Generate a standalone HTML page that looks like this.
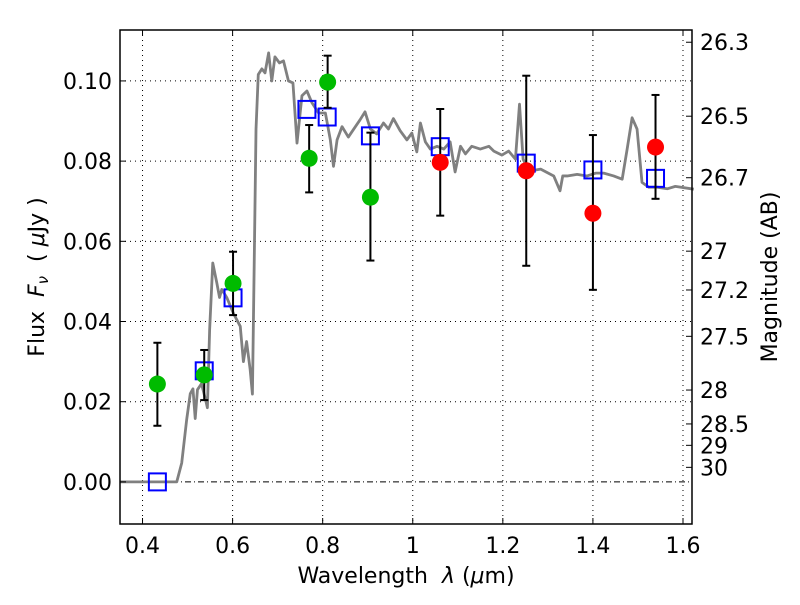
<!DOCTYPE html>
<html><head><meta charset="utf-8"><style>
body{margin:0;background:#fff;}
svg text{font-family:"DejaVu Sans","Liberation Sans",sans-serif;}
</style></head><body>
<svg id="chart" width="800" height="600" xmlns="http://www.w3.org/2000/svg">
<rect width="800" height="600" fill="#fff"/>
<g id="grid"></g>
<g id="spec"></g>
<g id="marks"></g>
<g id="axes"></g>
<text x="406" y="583" font-size="22" text-anchor="middle">Wavelength&#160;&#160;<tspan font-style="italic">λ</tspan> (<tspan font-style="italic">μ</tspan>m)</text>
<text transform="translate(44,277) rotate(-90)" font-size="22" text-anchor="middle">Flux&#160;&#160;<tspan font-style="italic">F</tspan><tspan font-style="italic" font-size="15" dy="4">ν</tspan><tspan dy="-4">&#160;&#160;( </tspan><tspan font-style="italic">μ</tspan>Jy )</text>
<text transform="translate(777,277) rotate(-90)" font-size="22" text-anchor="middle">Magnitude (AB)</text>
</svg>
<script>
const xTicks=[0.4,0.6,0.8,1.0,1.2,1.4,1.6];
const xTickLabels=["0.4","0.6","0.8","1","1.2","1.4","1.6"];
const yTicks=[0,0.02,0.04,0.06,0.08,0.10];
const yTickLabels=["0.00","0.02","0.04","0.06","0.08","0.10"];
const magTicks=[26.3,26.5,26.7,27,27.2,27.5,28,28.5,29,30];
const specLam=[0.35,0.476,0.487,0.498,0.506,0.512,0.517,0.522,0.531,0.541,0.544,0.549,0.556,0.565,0.571,0.576,0.587,0.602,0.617,0.624,0.631,0.639,0.644,0.648,0.652,0.657,0.665,0.672,0.68,0.687,0.694,0.704,0.713,0.724,0.734,0.743,0.754,0.765,0.776,0.791,0.806,0.817,0.824,0.832,0.843,0.857,0.869,0.883,0.894,0.906,0.92,0.935,0.946,0.957,0.972,0.987,0.998,1.009,1.017,1.028,1.039,1.054,1.069,1.083,1.094,1.106,1.117,1.131,1.15,1.169,1.18,1.198,1.213,1.228,1.237,1.245,1.258,1.284,1.313,1.327,1.333,1.343,1.365,1.387,1.406,1.424,1.446,1.465,1.476,1.487,1.498,1.509,1.524,1.543,1.565,1.583,1.624];
const specFlux=[0,0,0.0047,0.0155,0.022,0.0232,0.0158,0.023,0.0245,0.020,0.0185,0.0379,0.0546,0.0496,0.046,0.048,0.046,0.042,0.0388,0.030,0.035,0.028,0.0219,0.0546,0.088,0.1016,0.103,0.102,0.107,0.100,0.106,0.1045,0.105,0.100,0.0995,0.0845,0.0963,0.0975,0.0946,0.092,0.092,0.0853,0.0787,0.0853,0.0886,0.086,0.088,0.0903,0.0923,0.088,0.0868,0.0895,0.088,0.0906,0.0876,0.0853,0.087,0.0823,0.0895,0.0848,0.083,0.0837,0.083,0.0848,0.0773,0.0837,0.0818,0.0837,0.083,0.0837,0.0825,0.0815,0.0825,0.0805,0.0942,0.0805,0.0775,0.078,0.0763,0.0726,0.0763,0.0763,0.0767,0.0763,0.077,0.077,0.0763,0.0755,0.083,0.0908,0.088,0.0747,0.0735,0.0735,0.0731,0.0737,0.073];
const greenLam=[0.433,0.537,0.601,0.770,0.811,0.906];
const greenFlux=[0.0244,0.0267,0.0495,0.0807,0.0997,0.071];
const greenLo=[0.014,0.0204,0.0416,0.0722,0.0933,0.0552];
const greenHi=[0.0347,0.0329,0.0574,0.089,0.1063,0.0871];
const redLam=[1.061,1.252,1.400,1.539];
const redFlux=[0.0797,0.0776,0.067,0.0835];
const redLo=[0.0664,0.0539,0.0479,0.0706];
const redHi=[0.093,0.1013,0.0865,0.0965];
const modelLam=[0.433,0.537,0.601,0.765,0.81,0.906,1.061,1.252,1.40,1.539];
const modelFlux=[0,0.0277,0.0459,0.0929,0.091,0.0863,0.0836,0.0795,0.0778,0.0757];

const L=120,R=692,T=30,B=524,X0=0.35,X1=1.62,Y0=-0.0105,Y1=0.1127;
const sx=v=>L+(v-X0)/(X1-X0)*(R-L);
const sy=v=>B-(v-Y0)/(Y1-Y0)*(B-T);
const NS="http://www.w3.org/2000/svg";
function mk(tag,attrs,parent){const e=document.createElementNS(NS,tag);for(const k in attrs)e.setAttribute(k,attrs[k]);parent.appendChild(e);return e;}
const grid=document.getElementById('grid'),axes=document.getElementById('axes'),marks=document.getElementById('marks'),spec=document.getElementById('spec');
xTicks.forEach((t,i)=>{const x=sx(t);
 const g=mk('line',{x1:x,x2:x,y1:T,y2:B,stroke:'#000','stroke-width':1,'stroke-dasharray':'1,4'},grid);
 
 mk('line',{x1:x,x2:x,y1:B,y2:B-6,stroke:'#000'},axes);mk('line',{x1:x,x2:x,y1:T,y2:T+6,stroke:'#000'},axes);
 const tx=mk('text',{x:x,y:B+29,'font-size':22,'text-anchor':'middle'},axes);tx.textContent=xTickLabels[i];
 });
yTicks.forEach((t,i)=>{const y=sy(t);
 const g=mk('line',{x1:L,x2:R,y1:y,y2:y,stroke:'#000','stroke-width':1,'stroke-dasharray':t===0?'6,3,1,3':'1,4'},grid);
 
 mk('line',{x1:L,x2:L+6,y1:y,y2:y,stroke:'#000'},axes);
 const tx=mk('text',{x:L-8,y:y+8,'font-size':22,'text-anchor':'end'},axes);tx.textContent=yTickLabels[i];
 });
magTicks.forEach(m=>{const f=Math.pow(10,(23.9-m)/2.5);const y=sy(f);
 mk('line',{x1:R,x2:R-6,y1:y,y2:y,stroke:'#000'},axes);
 const tx=mk('text',{x:R+8,y:y+8,'font-size':22},axes);tx.textContent=String(m);
 });
const fr=mk('rect',{x:L,y:T,width:R-L,height:B-T,fill:'none',stroke:'#000','stroke-width':1.5},axes);

const p=mk('polyline',{points:specLam.map((l,i)=>sx(l)+','+sy(specFlux[i])).join(' '),fill:'none',stroke:'#808080','stroke-width':2.8,'stroke-linejoin':'round'},spec);

function pts(lam,flux,lo,hi,color,nm){lam.forEach((l,i)=>{const x=sx(l);
 const e=mk('g',{},marks);
 mk('line',{x1:x,x2:x,y1:sy(lo[i]),y2:sy(hi[i]),stroke:'#000','stroke-width':2},e);
 mk('line',{x1:x-4,x2:x+4,y1:sy(lo[i]),y2:sy(lo[i]),stroke:'#000','stroke-width':2},e);
 mk('line',{x1:x-4,x2:x+4,y1:sy(hi[i]),y2:sy(hi[i]),stroke:'#000','stroke-width':2},e);
 const c=mk('circle',{cx:x,cy:sy(flux[i]),r:8.5,fill:color},marks);
 });}
modelLam.forEach((l,i)=>{const s=mk('rect',{x:sx(l)-8.5,y:sy(modelFlux[i])-8.5,width:17,height:17,fill:'none',stroke:'#0000ff','stroke-width':2},marks);
 });
pts(greenLam,greenFlux,greenLo,greenHi,'#00bb00','green-photometry');
pts(redLam,redFlux,redLo,redHi,'#ff0000','red-photometry');
</script>
</body></html>
